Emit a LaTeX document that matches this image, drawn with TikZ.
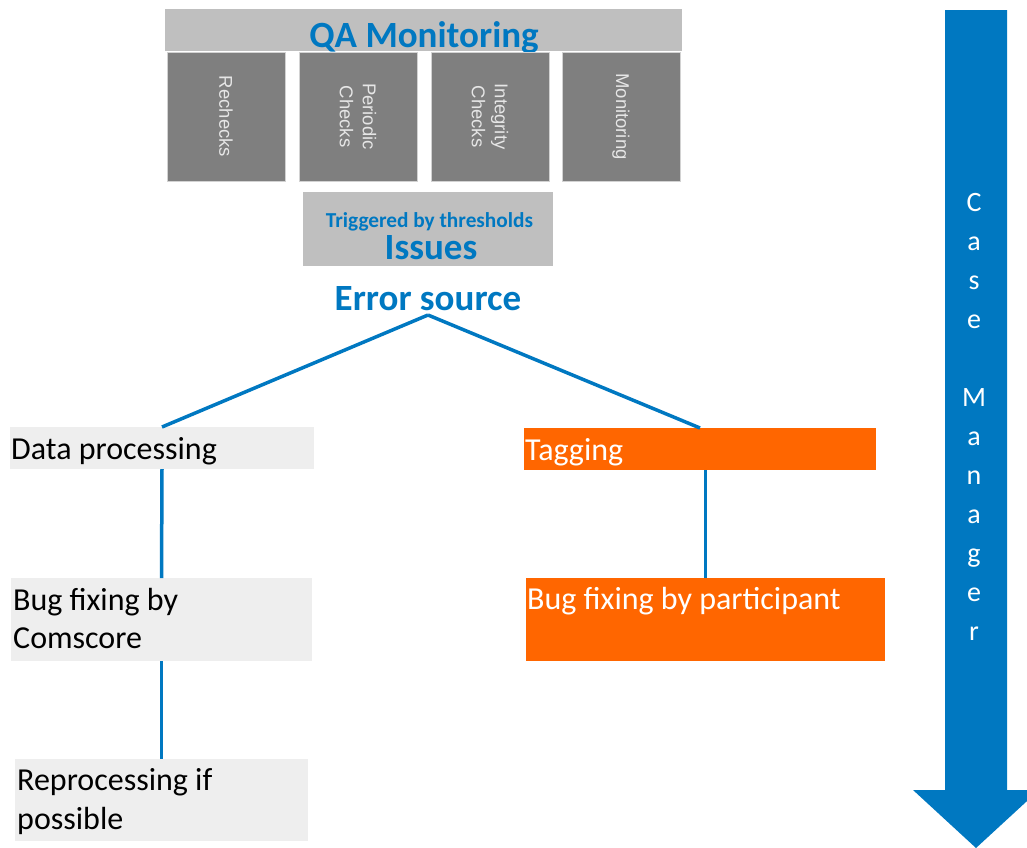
\documentclass[tikz,border=0pt]{standalone}
\usepackage{fontspec}
\setmainfont{Carlito}
\newfontfamily\rotfont{Liberation Sans}
\definecolor{qablue}{HTML}{0078C1}
\definecolor{qaorange}{HTML}{FF6600}
\definecolor{lgray}{HTML}{BFBFBF}
\definecolor{dgray}{HTML}{7F7F7F}
\definecolor{pgray}{HTML}{EEEEEE}
\definecolor{rottext}{HTML}{E6E6E6}
\begin{document}
\begin{tikzpicture}[x=1pt,y=-1pt,
  box/.style={inner sep=0pt, outer sep=0pt, draw=none},
  bar/.style={box, fill=lgray},
  dbox/.style={box, fill=dgray, draw=lgray!70, line width=1pt, minimum width=118pt, minimum height=129pt},
  pbox/.style={box, fill=pgray},
  obox/.style={box, fill=qaorange},
  rotlabel/.style={rotate=-90, align=center, inner sep=0pt, text=rottext, font=\rotfont\fontsize{18.5}{23}\selectfont},
  bluebig/.style={inner sep=0pt, anchor=base, text=qablue, font=\fontsize{37}{44}\selectfont\bfseries},
  bluesmall/.style={inner sep=0pt, anchor=base, text=qablue, font=\fontsize{21.3}{26}\selectfont\bfseries},
  blacktxt/.style={inner sep=0pt, anchor=base west, text=black, font=\fontsize{32}{39}\selectfont},
  whitetxt/.style={inner sep=0pt, anchor=base west, text=white, font=\fontsize{32}{39}\selectfont},
  conn/.style={draw=qablue, line width=3.5pt}
]
\clip (0,0) rectangle (1027,847);
\useasboundingbox (0,0) rectangle (1027,847);

% QA monitoring bar
\node[bar, minimum width=517pt, minimum height=42pt] (qabar) at (423.5,30) {};
\node[bluebig] (qatitle) at (424,47) {QA Monitoring};

% four dark boxes
\node[dbox] (b1) at (226,116.5) {};
\node[dbox] (b2) at (358,116.5) {};
\node[dbox] (b3) at (490,116.5) {};
\node[dbox] (b4) at (621,116.5) {};
\node[rotlabel] (t1) at (b1.center) {Rechecks};
\node[rotlabel] (t2) at (b2.center) {Periodic\\Checks};
\node[rotlabel] (t3) at (b3.center) {Integrity\\Checks};
\node[rotlabel] (t4) at (b4.center) {Monitoring};

% Issues box
\node[bar, minimum width=250pt, minimum height=74pt] (iss) at (428,229) {};
\node[bluesmall] (trig) at (429.5,227) {Triggered by thresholds};
\node[bluebig] (isstxt) at (431,259) {Issues};

% Error source
\node[bluebig] (err) at (428,310) {Error source};
\coordinate (errpt) at (428,315);

% left branch
\node[pbox, minimum width=304pt, minimum height=42pt] (dp) at (162,448) {};
\node[blacktxt] (dptxt) at (11,459) {Data processing};
\node[pbox, minimum width=301pt, minimum height=83pt] (bc) at (161.5,619.5) {};
\node[blacktxt] (bct1) at (13,610) {Bug fixing by};
\node[blacktxt] (bct2) at (13,648) {Comscore};
\node[pbox, minimum width=293pt, minimum height=82pt] (rp) at (161.5,800) {};
\node[blacktxt] (rpt1) at (17,790) {Reprocessing if};
\node[blacktxt] (rpt2) at (17,829) {possible};

% right branch
\node[obox, minimum width=352pt, minimum height=42pt] (tag) at (700,449) {};
\node[whitetxt] (tagtxt) at (525,460) {Tagging};
\node[obox, minimum width=359pt, minimum height=83pt] (bp) at (705.5,619.5) {};
\node[whitetxt] (bptxt) at (527,609) {Bug fixing by participant};

% connectors
\draw[conn] (errpt) -- (dp.north);
\draw[conn] (errpt) -- (tag.north);
\draw[conn] (dp.south) -- (bc.north);
\draw[conn] (bc.south) -- (rp.north);
\draw[conn] (bp.north |- tag.south) -- (bp.north);

% Case Manager arrow
\fill[qablue] (945,10) -- (1007,10) -- (1007,790) -- (1039,790) -- (976,848) -- (913,790) -- (945,790) -- cycle;
\node[inner sep=0pt, anchor=north, align=center, text=white, font=\fontsize{28}{39}\selectfont] (cm) at (974,193)
  {C\\a\\s\\e\\~\\M\\a\\n\\a\\g\\e\\r};
\end{tikzpicture}
\end{document}
